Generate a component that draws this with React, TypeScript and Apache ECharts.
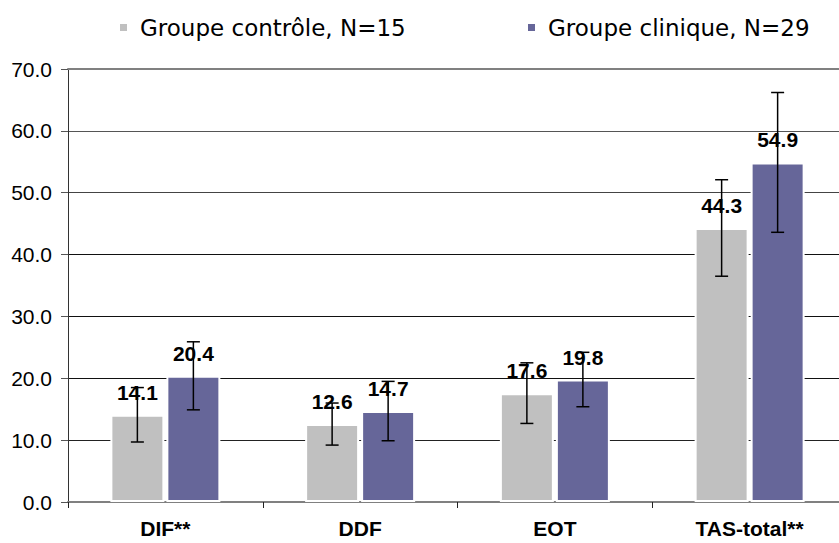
import React, { useEffect, useRef } from "react";
import * as echarts from "echarts";

const categories = ["DIF**", "DDF", "EOT", "TAS-total**"];
const controlName = "Groupe contrôle, N=15";
const clinicalName = "Groupe clinique, N=29";
const controlMeans = [14.1, 12.6, 17.6, 44.3];
const clinicalMeans = [20.4, 14.7, 19.8, 54.9];
const controlSD = [4.4, 3.4, 4.9, 7.8];
const clinicalSD = [5.5, 4.8, 4.4, 11.3];
const yMin = 0;
const yMax = 70;
const yInterval = 10;

const FONT = "'Liberation Sans', Arial, Helvetica, sans-serif";
const LEGEND_FONT = "'DejaVu Sans', 'Liberation Sans', Arial, sans-serif";
const BAR_W = 54;
const BAR_GAP_PX = 2;
const HALF_OFFSET = (BAR_W + BAR_GAP_PX) / 2;

function errorSeries(means: number[], sds: number[], offset: number) {
  return {
    type: "custom",
    z: 5,
    silent: true,
    data: means.map((m, i) => [i, m, sds[i]]),
    encode: { x: 0, y: 1 },
    renderItem: (_params: any, api: any) => {
      const idx = api.value(0);
      const mean = api.value(1);
      const sd = api.value(2);
      const hi = api.coord([idx, mean + sd]);
      const lo = api.coord([idx, mean - sd]);
      const x = hi[0] + offset;
      const cap = 6.5;
      const st = { stroke: "#000", lineWidth: 1.5 };
      return {
        type: "group",
        children: [
          { type: "line", shape: { x1: x, y1: hi[1], x2: x, y2: lo[1] }, style: st },
          { type: "line", shape: { x1: x - cap, y1: hi[1], x2: x + cap, y2: hi[1] }, style: st },
          { type: "line", shape: { x1: x - cap, y1: lo[1], x2: x + cap, y2: lo[1] }, style: st },
        ],
      };
    },
  };
}

export default function App() {
  const ref = useRef<HTMLDivElement>(null);
  useEffect(() => {
    if (!ref.current) return;
    const chart = echarts.init(ref.current, null, { renderer: "svg" });
    const legendCommon = {
      top: 16,
      padding: 0,
      icon: "rect",
      itemWidth: 9,
      itemHeight: 9,
      textStyle: { fontSize: 23, color: "#000", fontFamily: LEGEND_FONT, padding: [0, 0, 0, 7] },
    };
    const barLabel = {
      show: true,
      position: "top",
      distance: 12,
      fontSize: 21,
      fontWeight: "bold",
      color: "#000",
      fontFamily: FONT,
      formatter: (p: any) => Number(p.value).toFixed(1),
    };
    chart.setOption({
      animation: false,
      backgroundColor: "#fff",
      textStyle: { fontFamily: FONT },
      legend: [
        { ...legendCommon, left: 118, data: [controlName] },
        { ...legendCommon, left: 526, data: [clinicalName] },
      ],
      grid: { left: 68, right: -8, top: 69, bottom: 41, outerBoundsMode: "none", containLabel: false },
      xAxis: [
        {
          type: "category",
          data: categories,
          axisLine: { show: true, lineStyle: { color: "#808080", width: 2 } },
          axisTick: { show: true, length: 6, lineStyle: { color: "#222", width: 1 } },
          axisLabel: { margin: 16, fontSize: 21, fontWeight: "bold", color: "#000", fontFamily: FONT },
          splitLine: { show: false },
        },
        {
          type: "category",
          position: "top",
          data: categories,
          axisLine: { show: true, lineStyle: { color: "#808080", width: 2 } },
          axisTick: { show: false },
          axisLabel: { show: false },
        },
      ],
      yAxis: {
        type: "value",
        min: yMin,
        max: yMax,
        interval: yInterval,
        axisLine: { show: true, lineStyle: { color: "#333", width: 1 } },
        axisTick: { show: true, length: 7, lineStyle: { color: "#555" } },
        axisLabel: {
          margin: 16,
          fontSize: 21,
          color: "#000",
          fontFamily: FONT,
          formatter: (v: number) => v.toFixed(1),
        },
        splitLine: {
          show: true,
          lineStyle: {
            color: ["#808080", "#222", "#111", "#111", "#111", "#444", "#555", "#808080"],
            width: 1,
          },
        },
      },
      series: [
        {
          name: controlName,
          type: "bar",
          data: controlMeans,
          barWidth: BAR_W,
          barGap: (BAR_GAP_PX / BAR_W) * 100 + "%",
          itemStyle: { color: "#C0C0C0", borderColor: "#fff", borderWidth: 2 },
          label: barLabel,
        },
        {
          name: clinicalName,
          type: "bar",
          data: clinicalMeans,
          barWidth: BAR_W,
          barGap: (BAR_GAP_PX / BAR_W) * 100 + "%",
          itemStyle: { color: "#666699", borderColor: "#fff", borderWidth: 2 },
          label: barLabel,
        },
        errorSeries(controlMeans, controlSD, -HALF_OFFSET),
        errorSeries(clinicalMeans, clinicalSD, HALF_OFFSET),
      ],
    });
    return () => chart.dispose();
  }, []);
  return (
    <div
      ref={ref}
      style={{ position: "fixed", left: 0, top: 0, width: 839, height: 543 }}
    />
  );
}
